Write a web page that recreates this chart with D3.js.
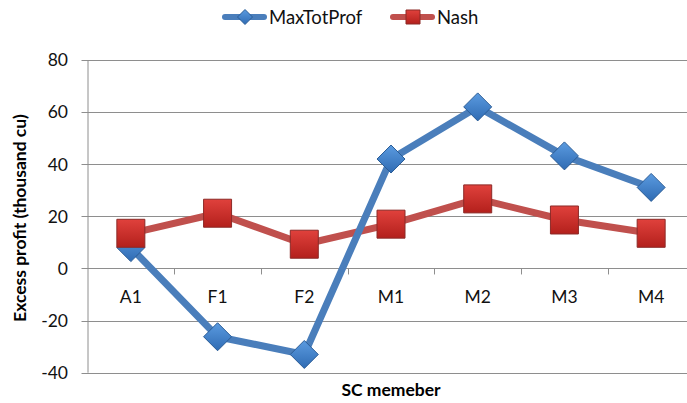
<!DOCTYPE html>
<html>
<head>
<meta charset="utf-8">
<script src="https://cdn.jsdelivr.net/npm/d3@7"></script>
<style>
  body { margin: 0; background: #fff; }
  svg { display: block; font-family: Lato, "Open Sans", sans-serif; }
</style>
</head>
<body>
<svg id="drawing_region"></svg>
<script>
const categories = ["A1", "F1", "F2", "M1", "M2", "M3", "M4"];
const maxTotProf = [8, -26.2, -33, 42, 62, 43.2, 31.1];
const nash = [13.5, 21.2, 9.3, 17, 26.7, 18.6, 13.5];
const yTicks = [-40, -20, 0, 20, 40, 60, 80];

const width = 687, height = 403;
const margin = { top: 60, left: 87.5 };
const plotRight = 694.5, plotBottom = 372.7;

const svg = d3.select('#drawing_region')
    .attr('width', width)
    .attr('height', height);

const defs = svg.append('defs');
function grad(id, c1, c2) {
    const g = defs.append('linearGradient').attr('id', id)
        .attr('x1', 0).attr('y1', 0).attr('x2', 0).attr('y2', 1);
    g.append('stop').attr('offset', '0%').attr('stop-color', c1);
    g.append('stop').attr('offset', '100%').attr('stop-color', c2);
}
grad('gBlue', '#5b9be0', '#2f6bb3');
grad('gRed', '#e0413c', '#b3201c');

const x = d3.scalePoint()
    .domain(categories)
    .range([margin.left, plotRight])
    .padding(0.5);

const xBand = d3.scaleBand()
    .domain(categories)
    .range([margin.left, plotRight]);

const y = d3.scaleLinear()
    .domain([-40, 80])
    .range([plotBottom, margin.top]);

// gridlines
svg.append('g').selectAll('line')
    .data(yTicks)
    .join('line')
    .attr('x1', margin.left - 6)
    .attr('x2', plotRight)
    .attr('y1', d => Math.round(y(d)) + 0.5)
    .attr('y2', d => Math.round(y(d)) + 0.5)
    .attr('stroke', '#8e8e8e')
    .attr('stroke-width', 1);

// y axis line
svg.append('line')
    .attr('x1', margin.left + 0.5).attr('x2', margin.left + 0.5)
    .attr('y1', margin.top).attr('y2', plotBottom)
    .attr('stroke', '#8e8e8e');

// x ticks on zero line
svg.append('g').selectAll('line')
    .data(categories.slice(1))
    .join('line')
    .attr('x1', d => Math.round(xBand(d)) + 0.5)
    .attr('x2', d => Math.round(xBand(d)) + 0.5)
    .attr('y1', y(0))
    .attr('y2', y(0) + 6)
    .attr('stroke', '#8e8e8e');

// y tick labels
svg.append('g').selectAll('text')
    .data(yTicks)
    .join('text')
    .attr('x', 68)
    .attr('y', d => y(d))
    .attr('dy', '0.36em')
    .attr('text-anchor', 'end')
    .attr('font-size', 17.5)
    .attr('fill', '#111')
    .text(d => d);

// x tick labels
svg.append('g').selectAll('text')
    .data(categories)
    .join('text')
    .attr('x', d => x(d))
    .attr('y', y(0) + 28)
    .attr('dy', '0.36em')
    .attr('text-anchor', 'middle')
    .attr('font-size', 17.5)
    .attr('fill', '#111')
    .text(d => d);

// axis titles
svg.append('text')
    .attr('transform', 'translate(26,218) rotate(-90)')
    .attr('text-anchor', 'middle')
    .attr('font-size', 17.5)
    .attr('font-weight', 'bold')
    .text('Excess profit (thousand cu)');

svg.append('text')
    .attr('x', 391)
    .attr('y', 390)
    .attr('dy', '0.36em')
    .attr('text-anchor', 'middle')
    .attr('font-size', 17.5)
    .attr('font-weight', 'bold')
    .text('SC memeber');

const line = d3.line()
    .x((d, i) => x(categories[i]))
    .y(d => y(d));

// lines: red then blue (blue crosses over red)
svg.append('path')
    .datum(nash)
    .attr('d', line)
    .attr('fill', 'none')
    .attr('stroke', '#c0504d')
    .attr('stroke-width', 7)
    .attr('stroke-linejoin', 'round');

svg.append('path')
    .datum(maxTotProf)
    .attr('d', line)
    .attr('fill', 'none')
    .attr('stroke', '#4a7ebb')
    .attr('stroke-width', 7)
    .attr('stroke-linejoin', 'round');

const diamond = 'M0,-14L14,0L0,14L-14,0Z';
const square = 'M-14,-14H14V14H-14Z';

svg.append('g').selectAll('path')
    .data(maxTotProf)
    .join('path')
    .attr('transform', (d, i) => `translate(${x(categories[i])},${y(d)})`)
    .attr('d', diamond)
    .attr('fill', 'url(#gBlue)')
    .attr('stroke', '#2a5c96')
    .attr('stroke-width', 1);

svg.append('g').selectAll('path')
    .data(nash)
    .join('path')
    .attr('transform', (d, i) => `translate(${x(categories[i])},${y(d)})`)
    .attr('d', square)
    .attr('fill', 'url(#gRed)')
    .attr('stroke', '#8c2a27')
    .attr('stroke-width', 1);

// legend
const legend = svg.append('g');
const items = [
    { name: 'MaxTotProf', color: '#4a7ebb', fill: 'url(#gBlue)', stroke: '#2a5c96', shape: 'M0,-7.5L7.5,0L0,7.5L-7.5,0Z', x0: 222 },
    { name: 'Nash', color: '#c0504d', fill: 'url(#gRed)', stroke: '#8c2a27', shape: 'M-7,-7H7V7H-7Z', x0: 390 }
];
items.forEach(it => {
    legend.append('line')
        .attr('x1', it.x0 + 3).attr('x2', it.x0 + 42)
        .attr('y1', 17).attr('y2', 17)
        .attr('stroke', it.color).attr('stroke-width', 6)
        .attr('stroke-linecap', 'round');
    legend.append('path')
        .attr('transform', `translate(${it.x0 + 23},17)`)
        .attr('d', it.shape)
        .attr('fill', it.fill)
        .attr('stroke', it.stroke);
    legend.append('text')
        .attr('x', it.x0 + 47)
        .attr('y', 17)
        .attr('dy', '0.36em')
        .attr('font-size', 18.5)
        .attr('fill', '#111')
        .text(it.name);
});
</script>
</body>
</html>
